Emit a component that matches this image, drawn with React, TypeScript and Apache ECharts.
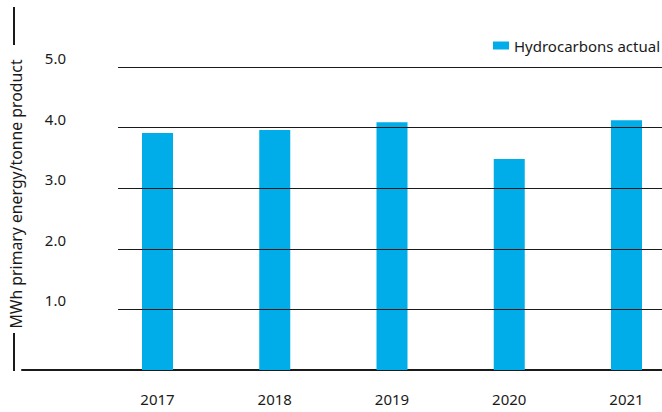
import React, { useEffect, useRef } from "react";
import * as echarts from "echarts";

const years = ["2017", "2018", "2019", "2020", "2021"];
const hydrocarbonsActual = [3.91, 3.96, 4.09, 3.48, 4.12];
const seriesName = "Hydrocarbons actual";
const yAxisTitle = "MWh primary energy/tonne product";
const yMin = 0;
const yMax = 5;
const yStep = 1;

const FONT = "'Noto Sans', sans-serif";
const BAR_COLOR = "#00ADE8";
const INK = "#1a1a1a";

export default function App() {
  const ref = useRef<HTMLDivElement>(null);

  useEffect(() => {
    if (!ref.current) return;
    const chart = echarts.init(ref.current, undefined, { renderer: "svg" });
    chart.setOption({
      animation: false,
      backgroundColor: "#ffffff",
      textStyle: { fontFamily: FONT },
      legend: {
        data: [seriesName],
        right: 2,
        top: 38,
        padding: 0,
        icon: "rect",
        itemWidth: 16,
        itemHeight: 8,
        textStyle: { fontFamily: FONT, fontSize: 15, color: INK },
      },
      grid: [
        // frame: baseline and the left axis title
        { left: 14, right: 0, top: 7, bottom: 42 },
        // bars: categories sit on the ticks, first at the left edge, last at the right
        { left: 157.5, right: 35.5, top: 67, bottom: 42 },
        // gridlines and tick labels
        { left: 118, right: 0, top: 67, bottom: 42 },
      ],
      // left axis line, broken where its title sits
      graphic: [
        {
          type: "line",
          shape: { x1: 14, y1: 7, x2: 14, y2: 45 },
          style: { stroke: INK, lineWidth: 2 },
          silent: true,
        },
        {
          type: "line",
          shape: { x1: 14, y1: 333, x2: 14, y2: 371 },
          style: { stroke: INK, lineWidth: 2 },
          silent: true,
        },
      ],
      xAxis: [
        {
          gridIndex: 0,
          type: "value",
          min: 0,
          max: 1,
          axisLine: { show: true, onZero: false, lineStyle: { color: INK, width: 2 } },
          axisTick: { show: false },
          axisLabel: { show: false },
          splitLine: { show: false },
        },
        {
          gridIndex: 1,
          type: "category",
          data: years,
          boundaryGap: false,
          axisLine: { show: false },
          axisTick: { show: false },
          axisLabel: { margin: 21, fontFamily: FONT, fontSize: 15, color: INK },
        },
        {
          gridIndex: 2,
          type: "value",
          min: 0,
          max: 1,
          show: false,
        },
      ],
      yAxis: [
        {
          gridIndex: 0,
          type: "value",
          min: 0,
          max: 1,
          axisLine: { show: false },
          axisTick: { show: false },
          axisLabel: { show: false },
          splitLine: { show: false },
          name: yAxisTitle,
          nameLocation: "middle",
          nameGap: 6,
          nameRotate: 90,
          nameTextStyle: {
            fontFamily: FONT,
            fontSize: 15.8,
            color: INK,
            verticalAlign: "middle",
            padding: [0, 11, 0, 0],
          },
        },
        {
          gridIndex: 1,
          type: "value",
          min: yMin,
          max: yMax,
          interval: yStep,
          show: false,
        },
        {
          gridIndex: 2,
          type: "value",
          min: yMin,
          max: yMax,
          interval: yStep,
          z: 10,
          axisLine: { show: false },
          axisTick: { show: false },
          splitLine: { show: true, lineStyle: { color: INK, width: 1 } },
          axisLabel: {
            showMinLabel: false,
            margin: 52,
            fontFamily: FONT,
            fontSize: 15,
            color: INK,
            formatter: (v: number) => v.toFixed(1),
            verticalAlign: "bottom",
            lineHeight: 18,
          },
        },
      ],
      series: [
        {
          name: seriesName,
          type: "bar",
          xAxisIndex: 1,
          yAxisIndex: 1,
          data: hydrocarbonsActual,
          barWidth: 31,
          clip: false,
          itemStyle: { color: BAR_COLOR },
        },
      ],
    });
    return () => chart.dispose();
  }, []);

  return (
    <div
      ref={ref}
      style={{ position: "fixed", left: 0, top: 0, width: 662, height: 412 }}
    />
  );
}
